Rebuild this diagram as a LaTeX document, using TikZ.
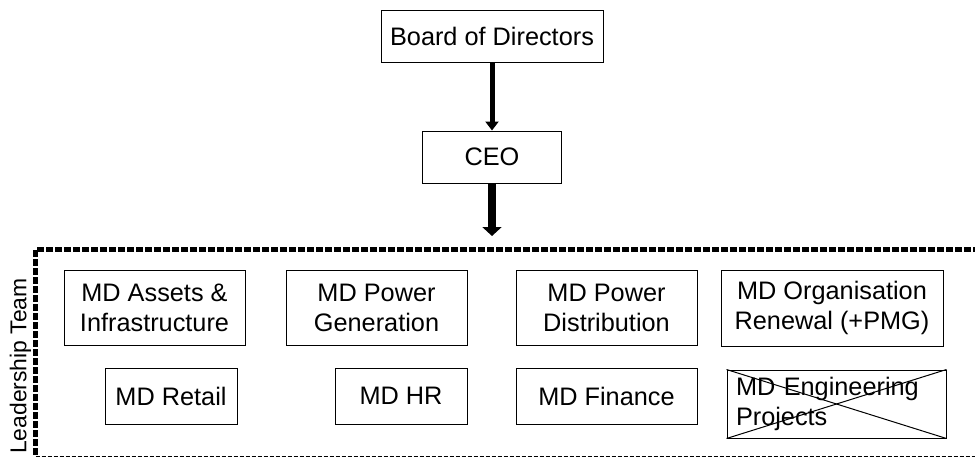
\documentclass[tikz,border=0pt]{standalone}
\usepackage{fontspec}
\setmainfont{Liberation Sans}
\usetikzlibrary{arrows.meta}
\begin{document}
\begin{tikzpicture}[x=1pt,y=-1pt,
  box/.style={draw, line width=1pt, inner sep=0pt, align=center, font=\fontsize{25.3}{30}\selectfont},
  txt/.style={inner sep=0pt, font=\fontsize{22.9}{27}\selectfont},
]
\useasboundingbox (0,0) rectangle (975,458);
% top
\node[box, minimum width=222pt, minimum height=52pt] (board) at (492,36) {Board of Directors};
\node[box, minimum width=139pt, minimum height=52pt] (ceo) at (492,157) {CEO};
\coordinate (lt) at (492,236);
\draw[line width=5pt, -{Triangle[width=13pt,length=9pt]}] (board.south) -- (ceo.north);
\draw[line width=8pt, -{Triangle[width=19pt,length=9pt]}] (ceo.south) -- (lt);
% frame
\draw[line width=5pt, dash pattern=on 7pt off 2pt] (980,249.5) -- (35.5,249.5) -- (35.5,456);
\draw[line width=1pt, dash pattern=on 4pt off 2pt] (35.5,456.5) -- (980,456.5);
\node[txt, rotate=90] (lead) at (20.5,366) {Leadership Team};
% row 1
\node[box, minimum width=181pt, minimum height=75pt] (assets) at (154.5,307.5) {MD Assets \&\\Infrastructure};
\node[box, minimum width=181pt, minimum height=75pt] (gen) at (376.5,307.5) {MD Power\\Generation};
\node[box, minimum width=181pt, minimum height=75pt] (dist) at (606.5,307.5) {MD Power\\Distribution};
\node[box, minimum width=222pt, minimum height=76pt] (org) at (832,308) {MD Organisation\\Renewal (+PMG)};
% row 2
\node[box, minimum width=132pt, minimum height=56pt] (retail) at (171,396) {MD Retail};
\node[box, minimum width=132pt, minimum height=56pt] (hr) at (401,396) {MD HR};
\node[box, minimum width=181pt, minimum height=56pt] (fin) at (606.5,396) {MD Finance};
\node[box, minimum width=219pt, minimum height=68pt, align=left, text width=201pt] (eng) at (836.5,404) {MD Engineering\\Projects};
\draw[line width=1pt] (eng.north west) -- (eng.south east);
\draw[line width=1pt] (eng.south west) -- (eng.north east);
\end{tikzpicture}
\end{document}
